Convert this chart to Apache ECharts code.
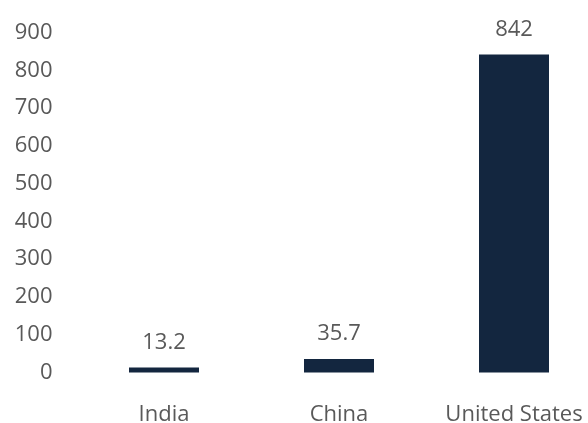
<!DOCTYPE html>
<html>
<head>
<meta charset="utf-8">
<script src="https://cdn.jsdelivr.net/npm/echarts@6/dist/echarts.min.js"></script>
<style>html,body{margin:0;padding:0;background:#fff;}#chart{width:588px;height:423px;}</style>
</head>
<body>
<div id="chart"></div>
<script>
const categories = ['India', 'China', 'United States'];
const values = [13.2, 35.7, 842];
const yTicks = [0, 100, 200, 300, 400, 500, 600, 700, 800, 900];

const chart = echarts.init(document.getElementById('chart'), null, {renderer: 'canvas'});
const font = 'Open Sans';
chart.setOption({
  animation: false,
  backgroundColor: '#ffffff',
  grid: {left: 76.5, width: 525, top: 32.5, height: 340, containLabel: false, outerBoundsMode: 'none'},
  xAxis: {
    type: 'category',
    data: categories,
    axisLine: {show: false},
    axisTick: {show: false},
    axisLabel: {color: '#595959', fontFamily: font, fontSize: 22, margin: 31, interval: 0, hideOverlap: false}
  },
  yAxis: {
    type: 'value',
    min: yTicks[0],
    max: yTicks[yTicks.length - 1],
    interval: 100,
    splitLine: {show: false},
    axisLine: {show: false},
    axisTick: {show: false},
    axisLabel: {color: '#595959', fontFamily: font, fontSize: 22, margin: 24}
  },
  series: [{
    type: 'bar',
    data: values,
    barCategoryGap: '60%',
    itemStyle: {color: '#13263f'},
    label: {show: true, position: 'top', distance: 14, color: '#595959', fontFamily: font, fontSize: 22}
  }]
});
</script>
</body>
</html>
